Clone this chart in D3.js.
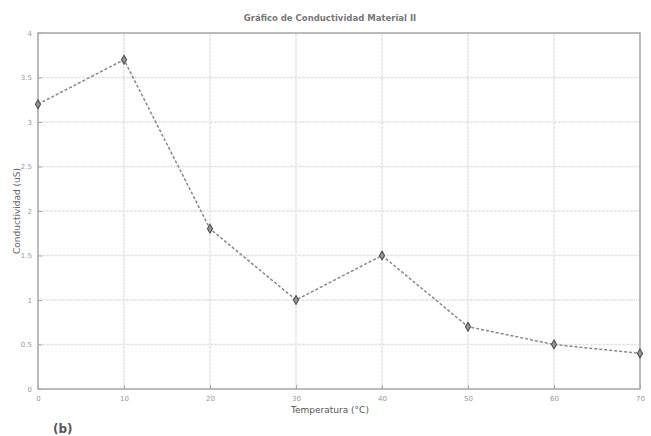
<!DOCTYPE html>
<html><head><meta charset="utf-8">
<script src="https://cdn.jsdelivr.net/npm/d3@7"></script>
<style>body{margin:0;background:#fff}svg{display:block}</style>
</head><body>
<script>
const temps = [0, 10, 20, 30, 40, 50, 60, 70];
const conductividad = [3.2, 3.7, 1.8, 1.0, 1.5, 0.7, 0.5, 0.4];
const xTicks = [0, 10, 20, 30, 40, 50, 60, 70];
const yTicks = [0, 0.5, 1, 1.5, 2, 2.5, 3, 3.5, 4];
const title = "Gráfico de Conductividad Material II";
const xLabel = "Temperatura (°C)";
const yLabel = "Conductividad (uS)";
const panel = "(b)";

const W = 651, H = 436;
const m = {l: 38, r: 11, t: 33, b: 47};
const svg = d3.select("body").append("svg").attr("width", W).attr("height", H);
const x = d3.scaleLinear().domain([0, 70]).range([m.l, W - m.r]);
const y = d3.scaleLinear().domain([0, 4]).range([H - m.b, m.t]);

const grid = svg.append("g");
grid.selectAll(".gx").data(xTicks).join("line")
  .attr("x1", d => x(d)).attr("x2", d => x(d)).attr("y1", y(0)).attr("y2", y(4))
  .attr("stroke", "#e2e2e2").attr("stroke-width", 1.5).attr("stroke-dasharray", "3,1");
grid.selectAll(".gy").data(yTicks).join("line")
  .attr("y1", d => y(d)).attr("y2", d => y(d)).attr("x1", x(0)).attr("x2", x(70))
  .attr("stroke", "#e2e2e2").attr("stroke-width", 1.5).attr("stroke-dasharray", "3,1");

svg.append("rect").attr("x", x(0)).attr("y", y(4)).attr("width", x(70) - x(0)).attr("height", y(0) - y(4))
  .attr("fill", "none").attr("stroke", "#aaa").attr("stroke-width", 1.5);

const xa = svg.append("g").attr("transform", `translate(0,${y(0)})`)
  .call(d3.axisBottom(x).tickValues(xTicks).tickSize(-4).tickPadding(7));
const ya = svg.append("g").attr("transform", `translate(${x(0)},0)`)
  .call(d3.axisLeft(y).tickValues(yTicks).tickSize(-4).tickPadding(6).tickFormat(d3.format("")));
[xa, ya].forEach(a => {
  a.select(".domain").remove();
  a.selectAll("line").attr("stroke", "#aaa");
  a.selectAll("text").attr("fill", "#999").style("font-family", "DejaVu Sans, sans-serif").style("font-size", "7px");
});

const line = d3.line().x((d, i) => x(temps[i])).y(d => y(d));
svg.append("path").datum(conductividad).attr("d", line)
  .attr("fill", "none").attr("stroke", "#888").attr("stroke-width", 1.5).attr("stroke-dasharray", "3,2");

svg.selectAll(".pt").data(conductividad).join("path")
  .attr("transform", (d, i) => `translate(${x(temps[i])},${y(d)})`)
  .attr("d", d3.symbol(d3.symbolDiamond, 22))
  .attr("fill", "#999").attr("stroke", "#555").attr("stroke-width", 1.2);

svg.append("text").attr("x", 330).attr("y", 21).attr("text-anchor", "middle")
  .style("font-family", "DejaVu Sans, sans-serif").style("font-size", "8.5px").style("font-weight", "bold").attr("fill", "#777").text(title);
svg.append("text").attr("x", 330).attr("y", 413).attr("text-anchor", "middle")
  .style("font-family", "DejaVu Sans, sans-serif").style("font-size", "9px").attr("fill", "#555").text(xLabel);
svg.append("text").attr("transform", `translate(20,${y(2)}) rotate(-90)`).attr("text-anchor", "middle")
  .style("font-family", "DejaVu Sans, sans-serif").style("font-size", "9px").attr("fill", "#666").text(yLabel);
svg.append("text").attr("x", 53).attr("y", 433)
  .style("font-family", "DejaVu Sans, sans-serif").style("font-size", "12px").style("font-weight", "bold").attr("fill", "#555").text(panel);
</script>
</body></html>
